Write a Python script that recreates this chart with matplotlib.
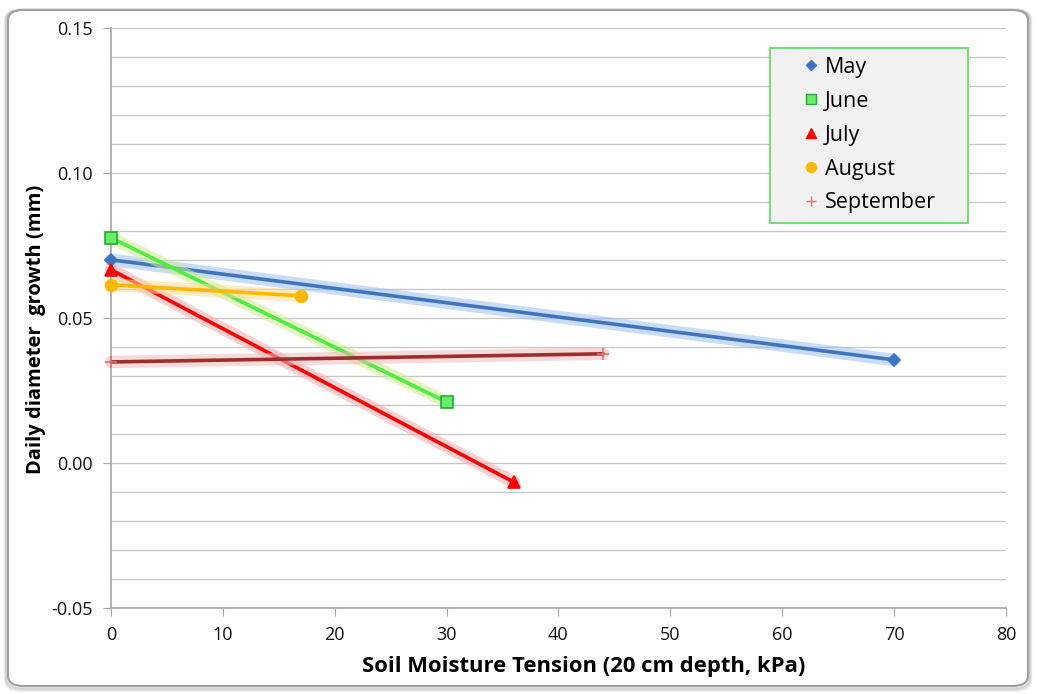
import matplotlib.pyplot as plt
import matplotlib.patheffects as pe
from matplotlib.patches import FancyBboxPatch
from matplotlib.lines import Line2D
from matplotlib.ticker import MultipleLocator, FormatStrFormatter

plt.rcParams['font.family'] = ['Open Sans', 'DejaVu Sans']

months = ['May', 'June', 'July', 'August', 'September']
tension = [[0, 70], [0, 30], [0, 36], [0, 17], [0, 44]]
growth = [[0.0700, 0.0355], [0.0776, 0.0210], [0.0666, -0.0066],
          [0.0614, 0.0576], [0.0348, 0.0376]]

line_colors = ['#3f75c0', '#4ced3c', '#ff0000', '#ffb800', '#9c2e2e']
glow_colors = ['#9cc0ee', '#cdee90', '#f4a8a8', '#ffdc90', '#eebcbc']
markers = ['D', 's', '^', 'o', '+']
marker_face = ['#3f75c0', '#66ee66', '#ff0000', '#ffb800', '#e07070']
marker_edge = ['#3f75c0', '#22aa33', '#ff0000', '#ffb800', '#e07070']
marker_size = [6, 8, 9, 8.5, 8]

fig = plt.figure(figsize=(10.37, 6.94), dpi=100)

# rounded outer frame with a soft grey shadow
W, H = 1037, 694
for grow, a in [(5, 0.06), (4, 0.09), (3, 0.12), (2, 0.16)]:
    fig.patches.append(FancyBboxPatch(((8 - grow * 0.6) / W, (8 - grow) / H),
                                      (1020 + grow * 1.2) / W, (676 + grow) / H,
                                      boxstyle='round,pad=0,rounding_size=0.015',
                                      transform=fig.transFigure, fc='none',
                                      ec='#707070', lw=2, alpha=a, zorder=-2))
fig.patches.append(FancyBboxPatch((8 / W, 8 / H), 1020 / W, 676 / H,
                                  boxstyle='round,pad=0,rounding_size=0.015',
                                  transform=fig.transFigure, fc='white',
                                  ec='#a0a0a0', lw=1.5, zorder=-1))

ax = fig.add_axes([0.107, 0.124, 0.863, 0.836])
ax.set_facecolor('none')

handles = []
for i, m in enumerate(months):
    # line with a soft glow, markers drawn on top without it
    ax.plot(tension[i], growth[i], color=line_colors[i], lw=2.6, zorder=3,
            solid_capstyle='round', clip_on=False,
            path_effects=[pe.Stroke(linewidth=9, foreground=glow_colors[i], alpha=0.55),
                          pe.Normal()])
    ax.plot(tension[i], growth[i], ls='none', marker=markers[i],
            ms=marker_size[i], mfc=marker_face[i], mec=marker_edge[i],
            mew=1.2, zorder=4, clip_on=False)
    handles.append(Line2D([], [], ls='none', marker=markers[i],
                          ms=marker_size[i] * 0.85, mfc=marker_face[i],
                          mec=marker_edge[i], mew=1.0, label=m))

ax.set_xlim(0, 80)
ax.set_ylim(-0.05, 0.15)
ax.xaxis.set_major_locator(MultipleLocator(10))
ax.yaxis.set_major_locator(MultipleLocator(0.05))
ax.yaxis.set_minor_locator(MultipleLocator(0.01))
ax.yaxis.set_major_formatter(FormatStrFormatter('%.2f'))
ax.grid(True, which='both', axis='y', color='#c8c8c8', lw=1)
ax.set_axisbelow(True)

for s in ['top', 'right']:
    ax.spines[s].set_visible(False)
for s in ['left', 'bottom']:
    ax.spines[s].set_color('#a6a6a6')
    ax.spines[s].set_linewidth(1.2)
ax.tick_params(which='major', length=6, color='#a6a6a6', labelsize=13,
               labelcolor='#111111', pad=7)
ax.tick_params(which='minor', length=0)

ax.set_xlabel('Soil Moisture Tension (20 cm depth, kPa)', fontsize=15.8,
              fontweight='bold')
ax.xaxis.set_label_coords(0.528, -0.082)
ax.set_ylabel('Daily diameter  growth (mm)', fontsize=14.5, fontweight='bold')
ax.yaxis.set_label_coords(-0.073, 0.481)

leg = ax.legend(handles=handles, loc='upper left',
                bbox_to_anchor=(0.736, 0.667, 0.222, 0.2985), mode='expand',
                fontsize=15.5, frameon=True, fancybox=False, handlelength=3.0,
                handletextpad=-0.85, borderpad=0.42, labelspacing=0.6,
                borderaxespad=0)
leg.get_frame().set_facecolor('#f1f1f1')
leg.get_frame().set_edgecolor('#77dd77')
leg.get_frame().set_linewidth(1.5)
leg.get_frame().set_alpha(1)

fig.savefig('out.png', dpi=100)
